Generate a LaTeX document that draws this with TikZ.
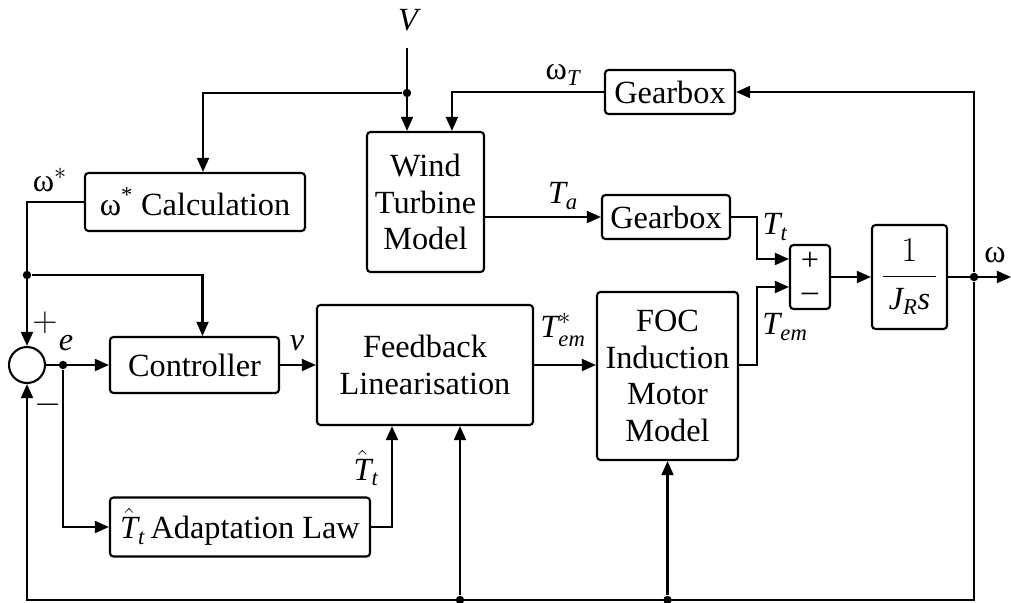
\documentclass[tikz,border=0pt]{standalone}
\usepackage{amsmath}
\usepackage{fontspec}
\setmainfont{Liberation Serif}
\usetikzlibrary{arrows.meta}
\newcommand{\itv}[1]{\text{\itshape #1}}
\tikzset{
  block/.style={draw, rounded corners=2.5pt, inner sep=0pt, align=center},
  dot/.style={circle, fill, inner sep=0pt, minimum size=6pt},
}
\begin{document}
\begin{tikzpicture}[x=0.025cm, y=-0.025cm, line width=1.5pt,
    >={Triangle[length=10pt,width=8.5pt]}, font=\fontsize{23}{26}\selectfont]
    \useasboundingbox (0,0) rectangle (1011,603);
    % blocks
    \node[block, minimum width=3.25cm, minimum height=1.1cm] (gear1) at (670,92) {Gearbox};
    \node[block, minimum width=2.925cm, minimum height=3.5cm] (wt) at (425.5,202) {Wind\\Turbine\\Model};
    \node[block, minimum width=5.5cm, minimum height=1.45cm] (calc) at (195,202) {ω\textsuperscript{*} Calculation};
    \node[block, minimum width=3.2cm, minimum height=1.1cm] (gear2) at (666,217) {Gearbox};
    \node[block, minimum width=1cm, minimum height=1.6cm, font=\fontsize{23}{21}\selectfont] (sumb) at (810,277) {+\\[1pt]–};
    \node[block, minimum width=1.875cm, minimum height=2.6cm] (inert) at (909.5,277) {$\displaystyle\frac{1}{\,\itv{J}_{\itv{R}}\itv{s}\,}$};
    \node[block, minimum width=4.225cm, minimum height=1.4cm] (ctrl) at (194.5,365) {Controller};
    \node[block, minimum width=5.4cm, minimum height=3cm] (fl) at (425,365) {Feedback\\Linearisation};
    \node[block, minimum width=3.525cm, minimum height=4.2cm] (foc) at (667.5,376) {FOC\\Induction\\Motor\\Model};
    \node[block, minimum width=6.5cm, minimum height=1.475cm] (adapt) at (240,527) {$\hat{\itv{T}}_{\itv{t}}$\,Adaptation Law};
    \node[draw, circle, inner sep=0pt, minimum size=0.9cm] (sumc) at (27,365) {};
    % junctions
    \coordinate (vtop) at (407,48);
    \node[dot] (vj) at (407,93) {};
    \node[dot] (wj) at (27,275) {};
    \node[dot] (ej) at (63,365) {};
    \node[dot] (oj) at (974,277) {};
    \node[dot] (bj1) at (460,600) {};
    \node[dot] (bj2) at (667.5,600) {};
    \coordinate (bl) at (27,600);
    \coordinate (wout) at (1011,277);
    % connectors
    \draw[->] (vtop) -- (vtop |- wt.north);
    \draw[->] (vj) -| ([xshift=0.2cm]calc.north);
    \draw[->] (gear1.west) -| ([xshift=0.66cm]wt.north);
    \draw[->] (calc.west) -| (sumc.north);
    \draw[->] (wj) -| ([xshift=0.2cm]ctrl.north);
    \draw[->] (sumc.east) -- (ctrl.west);
    \draw[->] (ej) |- (adapt.west);
    \draw[->] (adapt.east) -| ([xshift=-0.825cm]fl.south);
    \draw[->] (ctrl.east) -- (fl.west);
    \draw[->] (fl.east) -- (fl.east -| foc.west);
    \draw[->] (gear2.west -| wt.east) -- (gear2.west);
    \draw[->] (gear2.east) -- ++(0.65cm,0) |- ([yshift=0.45cm]sumb.west);
    \draw[->] (fl.east -| foc.east) -- ++(0.45cm,0) |- ([yshift=-0.25cm]sumb.west);
    \draw[->] (sumb.east) -- (inert.west);
    \draw[->] (inert.east) -- (wout);
    \draw[->] (oj) |- (gear1.east);
    \draw[->] (oj) |- (bl) -- (sumc.south);
    \draw[->] (bj1) -- (bj1 |- fl.south);
    \draw[->] (bj2) -- (foc.south);
    % labels
    \node (lV) at (408,20) {$\itv{V}$};
    \node (lwT) at (563,75) {$\text{ω}_{\itv{T}}$};
    \node (lws) at (50,180) {$\text{ω}^{*}$};
    \node (lTa) at (563,196) {$\itv{T}_{\itv{a}}$};
    \node (lTt) at (775,227) {$\itv{T}_{\itv{t}}$};
    \node (lTem) at (785,327) {$\itv{T}_{\itv{em}}$};
    \node (lw) at (995,255) {ω};
    \node (lplus) at (45,323) {$+$};
    \node (le) at (66,343) {$\itv{e}$};
    \node (lminus) at (48,405) {$-$};
    \node (lv) at (297,343) {$\itv{v}$};
    \node (lTs) at (563,330) {$\itv{T}^{*}_{\itv{em}}$};
    \node (lTh) at (366,468) {$\hat{\itv{T}}_{\itv{t}}$};
\end{tikzpicture}
\end{document}
